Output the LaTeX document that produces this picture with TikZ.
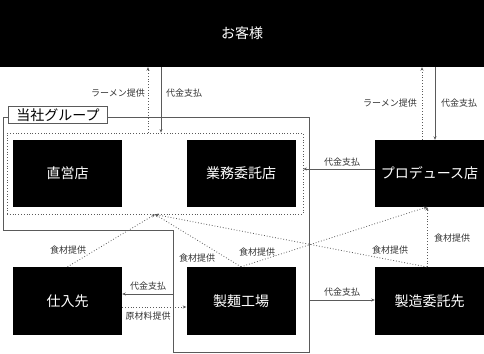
\documentclass[tikz,border=0pt]{standalone}
\usepackage{fontspec}
\setmainfont{Noto Sans CJK JP}
\usetikzlibrary{arrows.meta}
\definecolor{ln}{RGB}{90,90,90}
\tikzset{
  blk/.style={fill=black,text=white,minimum width=109pt,minimum height=67pt,inner sep=0pt,font=\fontsize{14pt}{16pt}\selectfont},
  lbl/.style={font=\fontsize{9pt}{10pt}\selectfont,text=black!80,inner sep=1pt},
  sol/.style={draw=ln,line width=0.8pt,-{Stealth[length=3.5pt,width=3pt]}},
  dot/.style={draw=ln,line width=0.8pt,dotted,-{Stealth[length=3.5pt,width=3pt]}}
}
\begin{document}
\begin{tikzpicture}[x=1pt,y=-1pt]
\useasboundingbox (0,0) rectangle (484,353);
% group outline
\draw[ln,line width=0.8pt] (3,117) -- (309,117) -- (309,352) -- (173,352) -- (173,230) -- (3,230) -- cycle;
\node[draw=ln,line width=0.8pt,fill=white,inner sep=1.5pt,minimum width=99pt,minimum height=17pt,font=\fontsize{14pt}{16pt}\selectfont] (glabel) at (58,115) {当社グループ};
% customer
\node[blk,minimum width=484pt,minimum height=67pt] (cust) at (242,33.5) {お客様};
% dotted inner box
\node[draw=ln,line width=0.8pt,dotted,minimum width=296pt,minimum height=81pt,inner sep=0pt] (dbox) at (155,173.5) {};
% boxes
\node[blk] (choku) at (67.5,173.5) {直営店};
\node[blk] (gyomu) at (241,173.5) {業務委託店};
\node[blk] (prod) at (429.5,173.5) {プロデュース店};
\node[blk,minimum height=68pt] (shiire) at (67.5,301) {仕入先};
\node[blk,minimum height=68pt] (seimen) at (241,301) {製麺工場};
\node[blk,minimum height=68pt] (seizo) at (429.5,301) {製造委託先};
% customer flows (left)
\draw[dot] (dbox.north -| 148,0) -- (cust.south -| 148,0);
\draw[sol] (cust.south -| 161,0) -- (dbox.north -| 161,0);
\node[lbl,anchor=east] (l1) at (146,93) {ラーメン提供};
\node[lbl,anchor=west] (l2) at (165,93) {代金支払};
% customer flows (right)
\draw[dot] (prod.north -| 422,0) -- (cust.south -| 422,0);
\draw[sol] (cust.south -| 435,0) -- (prod.north -| 435,0);
\node[lbl,anchor=east] (l3) at (418,103) {ラーメン提供};
\node[lbl,anchor=west] (l4) at (440,103) {代金支払};
% produce -> group
\draw[sol] (prod.west |- 0,169) -- (dbox.east |- 0,169);
\node[lbl] (l5) at (342,162) {代金支払};
% ingredient flows
\coordinate (conv) at (dbox.south);
\coordinate (pin) at (427,207);
\coordinate (sztop) at (427,267);
\draw[dot] (shiire.north) -- (conv);
\draw[dot] (seimen.north) -- (conv);
\draw[dot] (seimen.north) -- (pin);
\draw[dot] (sztop) -- (conv);
\draw[dot] (sztop) -- (pin);
\node[lbl] (l6) at (68,250) {食材提供};
\node[lbl] (l7) at (197,258) {食材提供};
\node[lbl] (l8) at (257,252) {食材提供};
\node[lbl] (l9) at (390,250) {食材提供};
\node[lbl,anchor=west] (l10) at (433,238) {食材提供};
% bottom flows
\coordinate (gl) at (173,294);
\coordinate (gr) at (309,300);
\draw[sol] (gl) -- (shiire.east |- gl);
\draw[dot] (shiire.east |- 0,307) -- (seimen.west |- 0,307);
\draw[sol] (gr) -- (seizo.west |- gr);
\node[lbl] (l11) at (148,286) {代金支払};
\node[lbl] (l12) at (148,316) {原材料提供};
\node[lbl] (l13) at (342,292) {代金支払};
\end{tikzpicture}
\end{document}
